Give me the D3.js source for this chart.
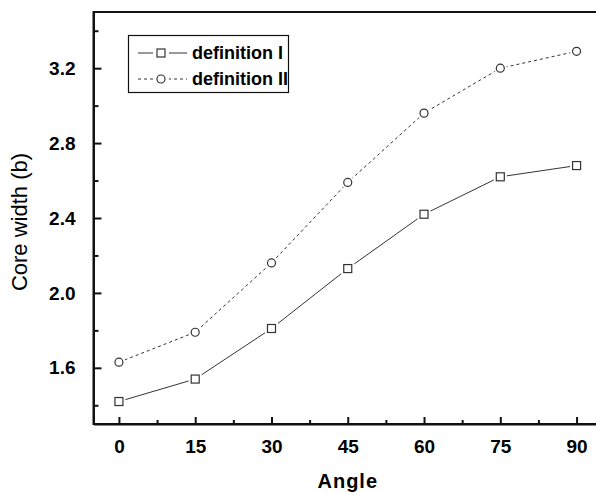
<!DOCTYPE html>
<html>
<head>
<meta charset="utf-8">
<script src="https://cdn.jsdelivr.net/npm/d3@7"></script>
<style>
html,body{margin:0;padding:0;background:#fff;}
svg{display:block;}
</style>
</head>
<body>
<script>
const angles = [0, 15, 30, 45, 60, 75, 90];
const defI  = [1.42, 1.54, 1.81, 2.13, 2.42, 2.62, 2.68];
const defII = [1.63, 1.79, 2.16, 2.59, 2.96, 3.20, 3.29];
const seriesNames = ["definition I", "definition II"];
const xTicks = [0, 15, 30, 45, 60, 75, 90];
const xMinor = [7.5, 22.5, 37.5, 52.5, 67.5, 82.5];
const yTicks = [1.6, 2.0, 2.4, 2.8, 3.2];
const yMinor = [1.4, 1.8, 2.2, 2.6, 3.0, 3.4];
const xTitle = "Angle";
const yTitle = "Core width (b)";

const W = 596, H = 492;
const svg = d3.select("body").append("svg").attr("width", W).attr("height", H);

const x = d3.scaleLinear().domain([-5, 95]).range([93.5, 602]);
const y = d3.scaleLinear().domain([1.3, 3.5]).range([424, 12]);

const g = svg.append("g");
const ink = "#111";
const font = "Liberation Sans, Arial, sans-serif";

// frame (top and right)
g.append("rect")
  .attr("x", x(-5)).attr("y", y(3.5))
  .attr("width", x(95) - x(-5)).attr("height", y(1.3) - y(3.5))
  .attr("fill", "none").attr("stroke", ink).attr("stroke-width", 2);

// x axis
const xAxis = d3.axisBottom(x).tickValues(xTicks).tickSizeInner(-7).tickSizeOuter(0).tickPadding(16).tickFormat(d3.format("d"));
const gx = g.append("g").attr("transform", `translate(0,${y(1.3)})`).call(xAxis);
gx.select(".domain").attr("stroke", ink).attr("stroke-width", 2);
gx.selectAll(".tick line").attr("stroke", ink).attr("stroke-width", 2);
gx.selectAll(".tick text").attr("font-family", font)
  .attr("font-weight", "bold").attr("font-size", 19).attr("fill", "#000");
g.append("g").attr("transform", `translate(0,${y(1.3)})`)
  .call(d3.axisBottom(x).tickValues(xMinor).tickSizeInner(-4).tickSizeOuter(0).tickFormat(""))
  .call(s => { s.select(".domain").remove(); s.selectAll(".tick line").attr("stroke", ink).attr("stroke-width", 2); });

// y axis
const yAxis = d3.axisLeft(y).tickValues(yTicks).tickSizeInner(-8).tickSizeOuter(0).tickPadding(18).tickFormat(d3.format(".1f"));
const gy = g.append("g").attr("transform", `translate(${x(-5)},0)`).call(yAxis);
gy.select(".domain").attr("stroke", ink).attr("stroke-width", 2);
gy.selectAll(".tick line").attr("stroke", ink).attr("stroke-width", 2);
gy.selectAll(".tick text").attr("font-family", font)
  .attr("font-weight", "bold").attr("font-size", 19).attr("fill", "#000");
g.append("g").attr("transform", `translate(${x(-5)},0)`)
  .call(d3.axisLeft(y).tickValues(yMinor).tickSizeInner(-5).tickSizeOuter(0).tickFormat(""))
  .call(s => { s.select(".domain").remove(); s.selectAll(".tick line").attr("stroke", ink).attr("stroke-width", 2); });

// titles
svg.append("text").attr("x", x(45)).attr("y", 488).attr("text-anchor", "middle")
  .attr("font-family", font).attr("font-weight", "bold")
  .attr("font-size", 20).attr("letter-spacing", 1).text(xTitle);
svg.append("text").attr("transform", `translate(27,${(y(1.3) + y(3.5)) / 2 + 4}) rotate(-90)`)
  .attr("text-anchor", "middle")
  .attr("font-family", font)
  .attr("font-size", 22).text(yTitle);

// series
const lineCol = "#333";
const data = [
  {name: seriesNames[0], vals: defI, dash: null, shape: "square"},
  {name: seriesNames[1], vals: defII, dash: "3,3", shape: "circle"}
];
const line = d3.line().x((d, i) => x(angles[i])).y(d => y(d));

data.forEach(s => {
  g.append("path").datum(s.vals).attr("d", line)
    .attr("fill", "none").attr("stroke", lineCol).attr("stroke-width", 1)
    .attr("stroke-dasharray", s.dash);
});

function drawMarker(sel, shape, cx, cy, halo) {
  if (shape === "square") {
    sel.append("rect").attr("x", cx - halo).attr("y", cy - halo).attr("width", 2 * halo).attr("height", 2 * halo)
      .attr("fill", "#fff");
    sel.append("rect").attr("x", cx - 4).attr("y", cy - 4).attr("width", 8).attr("height", 8)
      .attr("fill", "#fff").attr("stroke", lineCol).attr("stroke-width", 1.2);
  } else {
    sel.append("circle").attr("cx", cx).attr("cy", cy).attr("r", halo).attr("fill", "#fff");
    sel.append("circle").attr("cx", cx).attr("cy", cy).attr("r", 4)
      .attr("fill", "#fff").attr("stroke", lineCol).attr("stroke-width", 1.2);
  }
}
data.forEach(s => {
  s.vals.forEach((v, i) => drawMarker(g, s.shape, x(angles[i]), y(v), 6.5));
});

// legend
const lg = svg.append("g");
lg.append("rect").attr("x", 128.5).attr("y", 35.5).attr("width", 160).attr("height", 57)
  .attr("fill", "#fff").attr("stroke", ink).attr("stroke-width", 1.2);
data.forEach((s, i) => {
  const cy = 53 + i * 26;
  lg.append("line").attr("x1", 138).attr("x2", 187).attr("y1", cy).attr("y2", cy)
    .attr("stroke", lineCol).attr("stroke-width", 1).attr("stroke-dasharray", s.dash);
  drawMarker(lg, s.shape, 161, cy, 8);
  lg.append("text").attr("x", 192).attr("y", cy + 6)
    .attr("font-family", font).attr("font-weight", "bold")
    .attr("font-size", 18).text(s.name);
});
</script>
</body>
</html>
